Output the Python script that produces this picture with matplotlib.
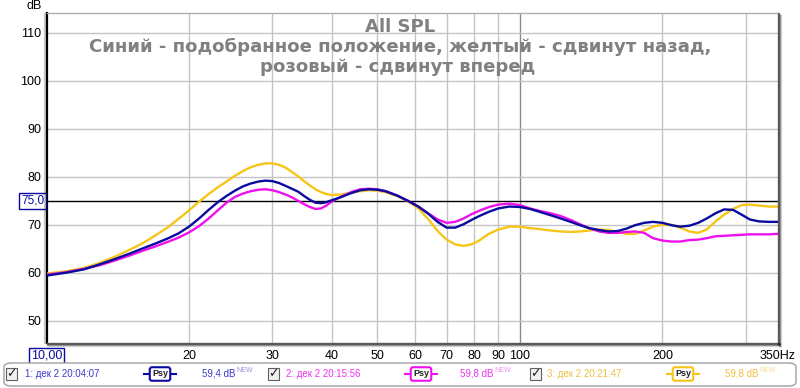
import numpy as np
import matplotlib.pyplot as plt
from matplotlib.patches import FancyBboxPatch, Rectangle
from matplotlib.lines import Line2D
import matplotlib.transforms as mtransforms

plt.rcParams['font.family'] = ['Liberation Sans', 'DejaVu Sans']

# frequencies (Hz)
freqs = [10, 11, 12, 13, 14, 15, 16, 17, 18, 19, 20, 21, 22, 23, 24, 25, 26, 27, 28, 29,
         30, 31, 32, 33, 34, 35, 36, 37, 38, 39, 40, 42, 44, 46, 48, 50, 52, 55, 58, 61,
         64, 67, 70, 73, 76, 79, 82, 86, 90, 95, 100, 105, 110, 116, 122, 128, 134, 140,
         147, 154, 161, 168, 175, 183, 191, 200, 209, 218, 228, 238, 248, 259, 270, 282,
         294, 306, 320, 335, 350]

# 1: blue - chosen position
spl_blue = [59.4, 60.0, 60.7, 61.8, 62.9, 64.0, 65.1, 66.1, 67.1, 68.2, 69.6, 71.3, 73.1,
            74.7, 76.0, 77.1, 78.0, 78.6, 79.0, 79.2, 79.1, 78.7, 78.1, 77.5, 76.9, 76.0,
            75.2, 74.6, 74.5, 74.7, 75.1, 75.8, 76.6, 77.2, 77.4, 77.3, 77.0, 76.1, 75.0,
            73.8, 72.3, 70.6, 69.4, 69.4, 70.1, 71.0, 71.8, 72.7, 73.4, 73.8, 73.7, 73.3,
            72.7, 72.0, 71.3, 70.6, 69.9, 69.3, 68.9, 68.6, 68.7, 69.2, 69.9, 70.4, 70.6,
            70.4, 69.9, 69.6, 69.8, 70.4, 71.3, 72.4, 73.2, 73.1, 72.1, 71.1, 70.7, 70.6,
            70.6]

# 2: magenta - moved forward
spl_magenta = [59.6, 60.1, 60.8, 61.6, 62.6, 63.6, 64.6, 65.5, 66.4, 67.3, 68.4, 69.7,
               71.3, 73.0, 74.6, 75.8, 76.5, 77.0, 77.3, 77.4, 77.2, 76.8, 76.3, 75.7,
               75.0, 74.3, 73.7, 73.3, 73.4, 74.0, 74.8, 75.9, 76.8, 77.4, 77.5, 77.4,
               77.0, 76.1, 75.0, 73.8, 72.4, 71.1, 70.4, 70.6, 71.3, 72.2, 72.9, 73.7,
               74.2, 74.4, 74.1, 73.4, 72.9, 72.4, 71.8, 71.0, 70.1, 69.3, 68.6, 68.3,
               68.3, 68.5, 68.6, 68.3, 67.2, 66.7, 66.5, 66.5, 66.8, 66.9, 67.2, 67.6,
               67.7, 67.8, 67.9, 68.0, 68.0, 68.0, 68.1]

# 3: yellow - moved back
spl_yellow = [59.8, 60.3, 61.0, 62.1, 63.4, 64.8, 66.2, 67.8, 69.4, 71.2, 73.0, 74.8,
              76.4, 77.8, 79.0, 80.2, 81.2, 82.0, 82.5, 82.8, 82.8, 82.5, 81.9, 81.0,
              80.1, 79.1, 78.2, 77.4, 76.8, 76.4, 76.2, 76.3, 76.7, 77.0, 77.2, 77.1,
              76.8, 76.0, 74.9, 73.4, 71.2, 68.7, 66.9, 65.9, 65.6, 65.9, 66.7, 68.1,
              69.0, 69.6, 69.6, 69.3, 69.1, 68.8, 68.6, 68.5, 68.6, 68.8, 69.0, 68.9,
              68.5, 68.1, 68.1, 68.8, 69.6, 70.0, 70.0, 69.4, 68.6, 68.3, 69.0, 70.7,
              72.1, 73.3, 74.1, 74.2, 74.0, 73.8, 73.8]

x_ticks = [20, 30, 40, 50, 60, 70, 80, 90, 100, 200, 350]
x_tick_labels = ['20', '30', '40', '50', '60', '70', '80', '90', '100', '200', '350Hz']
x_grid = [20, 30, 40, 50, 60, 70, 80, 90, 200, 300]
y_ticks = [50, 60, 70, 80, 90, 100, 110]

legend_names = ['1: дек 2 20:04:07', '2: дек 2 20:15:56', '3: дек 2 20:21:47']
legend_levels = ['59,4 dB', '59,8 dB', '59,8 dB']

c_blue = '#0a0aa0'
c_mag = '#ee11ee'
c_yel = '#f5c518'
txt_colors = ['#3a3acc', '#ee33ee', '#f0c040']

W, H = 800, 388
fig = plt.figure(figsize=(W / 100, H / 100), dpi=100)
fig.patch.set_facecolor('white')

left, right, top, bottom = 46.5, 777.5, 13.3, 342.7
ax = fig.add_axes([left / W, (H - bottom) / H, (right - left) / W, (bottom - top) / H])

# shadow around plot box
for i, a in enumerate([0.35, 0.2, 0.1]):
    fig.patches.append(Rectangle(((right + i) / W, (H - bottom - 2 - i) / H), 1.5 / W,
                                 (bottom - top + 2) / H, transform=fig.transFigure,
                                 color='#000000', alpha=a, zorder=0))
    fig.patches.append(Rectangle((left / W, (H - bottom - 1.5 - i) / H), (right - left + 2) / W,
                                 1.5 / H, transform=fig.transFigure,
                                 color='#000000', alpha=a, zorder=0))
fig.patches.append(Rectangle(((left - 3) / W, (H - bottom) / H), 2.5 / W, (bottom - top) / H,
                             transform=fig.transFigure, color='#000000', alpha=0.15, zorder=0))

ax.set_xscale('log')
ax.set_xlim(10, 350)
ax.set_ylim(45.4, 114.1)

for f in x_grid:
    ax.axvline(f, color='#c4c4c4', lw=1.0, zorder=1)
ax.axvline(100, color='#8a8a8a', lw=1.0, zorder=1)
for v in y_ticks:
    ax.axhline(v, color='#c4c4c4', lw=1.0, zorder=1)
ax.axhline(75, color='black', lw=1.0, zorder=2)

ax.plot(freqs, spl_yellow, color=c_yel, lw=1.7, zorder=3)
ax.plot(freqs, spl_magenta, color=c_mag, lw=1.7, zorder=4)
ax.plot(freqs, spl_blue, color=c_blue, lw=1.7, zorder=5)

ax.set_xticks(x_ticks)
ax.set_xticklabels(x_tick_labels)
ax.set_xticks([], minor=True)
ax.set_yticks(y_ticks)
ax.tick_params(axis='both', length=0, labelsize=9, pad=4)
ax.tick_params(axis='x', pad=5)

ax.spines['left'].set_linewidth(1.6)
ax.spines['left'].set_color('black')
for s in ['top', 'right', 'bottom']:
    ax.spines[s].set_color('#b0b0b0')
    ax.spines[s].set_linewidth(1.0)

# marker boxes
ax.text(-0.003, 75, '75,0', transform=mtransforms.blended_transform_factory(ax.transAxes, ax.transData),
        ha='right', va='center', fontsize=8.5, color=c_blue,
        bbox=dict(boxstyle='square,pad=0.15', fc='white', ec=c_blue, lw=1))
ax.text(10, -0.04, '10,00', transform=mtransforms.blended_transform_factory(ax.transData, ax.transAxes),
        ha='center', va='center', fontsize=9, color=c_blue,
        bbox=dict(boxstyle='square,pad=0.15', fc='white', ec=c_blue, lw=1))

fig.text(34 / W, 1 - 6 / H, 'dB', ha='center', va='center', fontsize=9)

# title
title_kw = dict(ha='center', va='baseline', color='#808080', fontweight='bold', fontsize=13.1,
                family='DejaVu Sans')
fig.text(400 / W, 1 - 32 / H, 'All SPL', **title_kw)
fig.text(400 / W, 1 - 52 / H, 'Синий - подобранное положение, желтый - сдвинут назад,', **title_kw)
fig.text(398 / W, 1 - 72.5 / H, 'розовый - сдвинут вперед', **title_kw)

# legend bar
fig.patches.append(FancyBboxPatch((4 / W, 2 / H), 792 / W, 23 / H, boxstyle='round,pad=0,rounding_size=0.01',
                                  transform=fig.transFigure, fc='white', ec='#a0a0a0', lw=1))
cb_x = [6, 268, 530]
name_x = [25, 286, 547]
psy_x = [160, 421, 683]
lvl_x = [202, 460, 725]
line_colors = [c_blue, c_mag, c_yel]
ly = 374
renderer = fig.canvas.get_renderer()
for i in range(3):
    fig.patches.append(Rectangle((cb_x[i] / W, (H - ly - 6) / H), 11 / W, 12 / H,
                                 transform=fig.transFigure, fc='#f0f0f0', ec='#606060', lw=0.8))
    fig.text((cb_x[i] + 5.5) / W, 1 - ly / H, '✓', ha='center', va='center', fontsize=9,
             fontweight='bold', color='#202020', family='DejaVu Sans')
    fig.text(name_x[i] / W, 1 - ly / H, legend_names[i], ha='left', va='center', fontsize=7,
             color=txt_colors[i])
    fig.lines.append(Line2D([(psy_x[i] - 16) / W, (psy_x[i] + 16) / W], [1 - ly / H, 1 - ly / H],
                            transform=fig.transFigure, color=line_colors[i], lw=1.5))
    fig.text(psy_x[i] / W, 1 - ly / H, 'Psy', ha='center', va='center', fontsize=6.5,
             fontweight='bold', color='#202020',
             bbox=dict(boxstyle='round,pad=0.25', fc='white', ec=line_colors[i], lw=1.5))
    t = fig.text(lvl_x[i] / W, 1 - ly / H, legend_levels[i], ha='left', va='center', fontsize=7,
                 color=txt_colors[i])
    x_end = t.get_window_extent(renderer).x1
    fig.text((x_end + 1) / W, 1 - (ly - 4) / H, 'NEW', ha='left', va='center', fontsize=5,
             color=txt_colors[i], alpha=0.55)

fig.savefig('out.png', dpi=100, facecolor='white')
